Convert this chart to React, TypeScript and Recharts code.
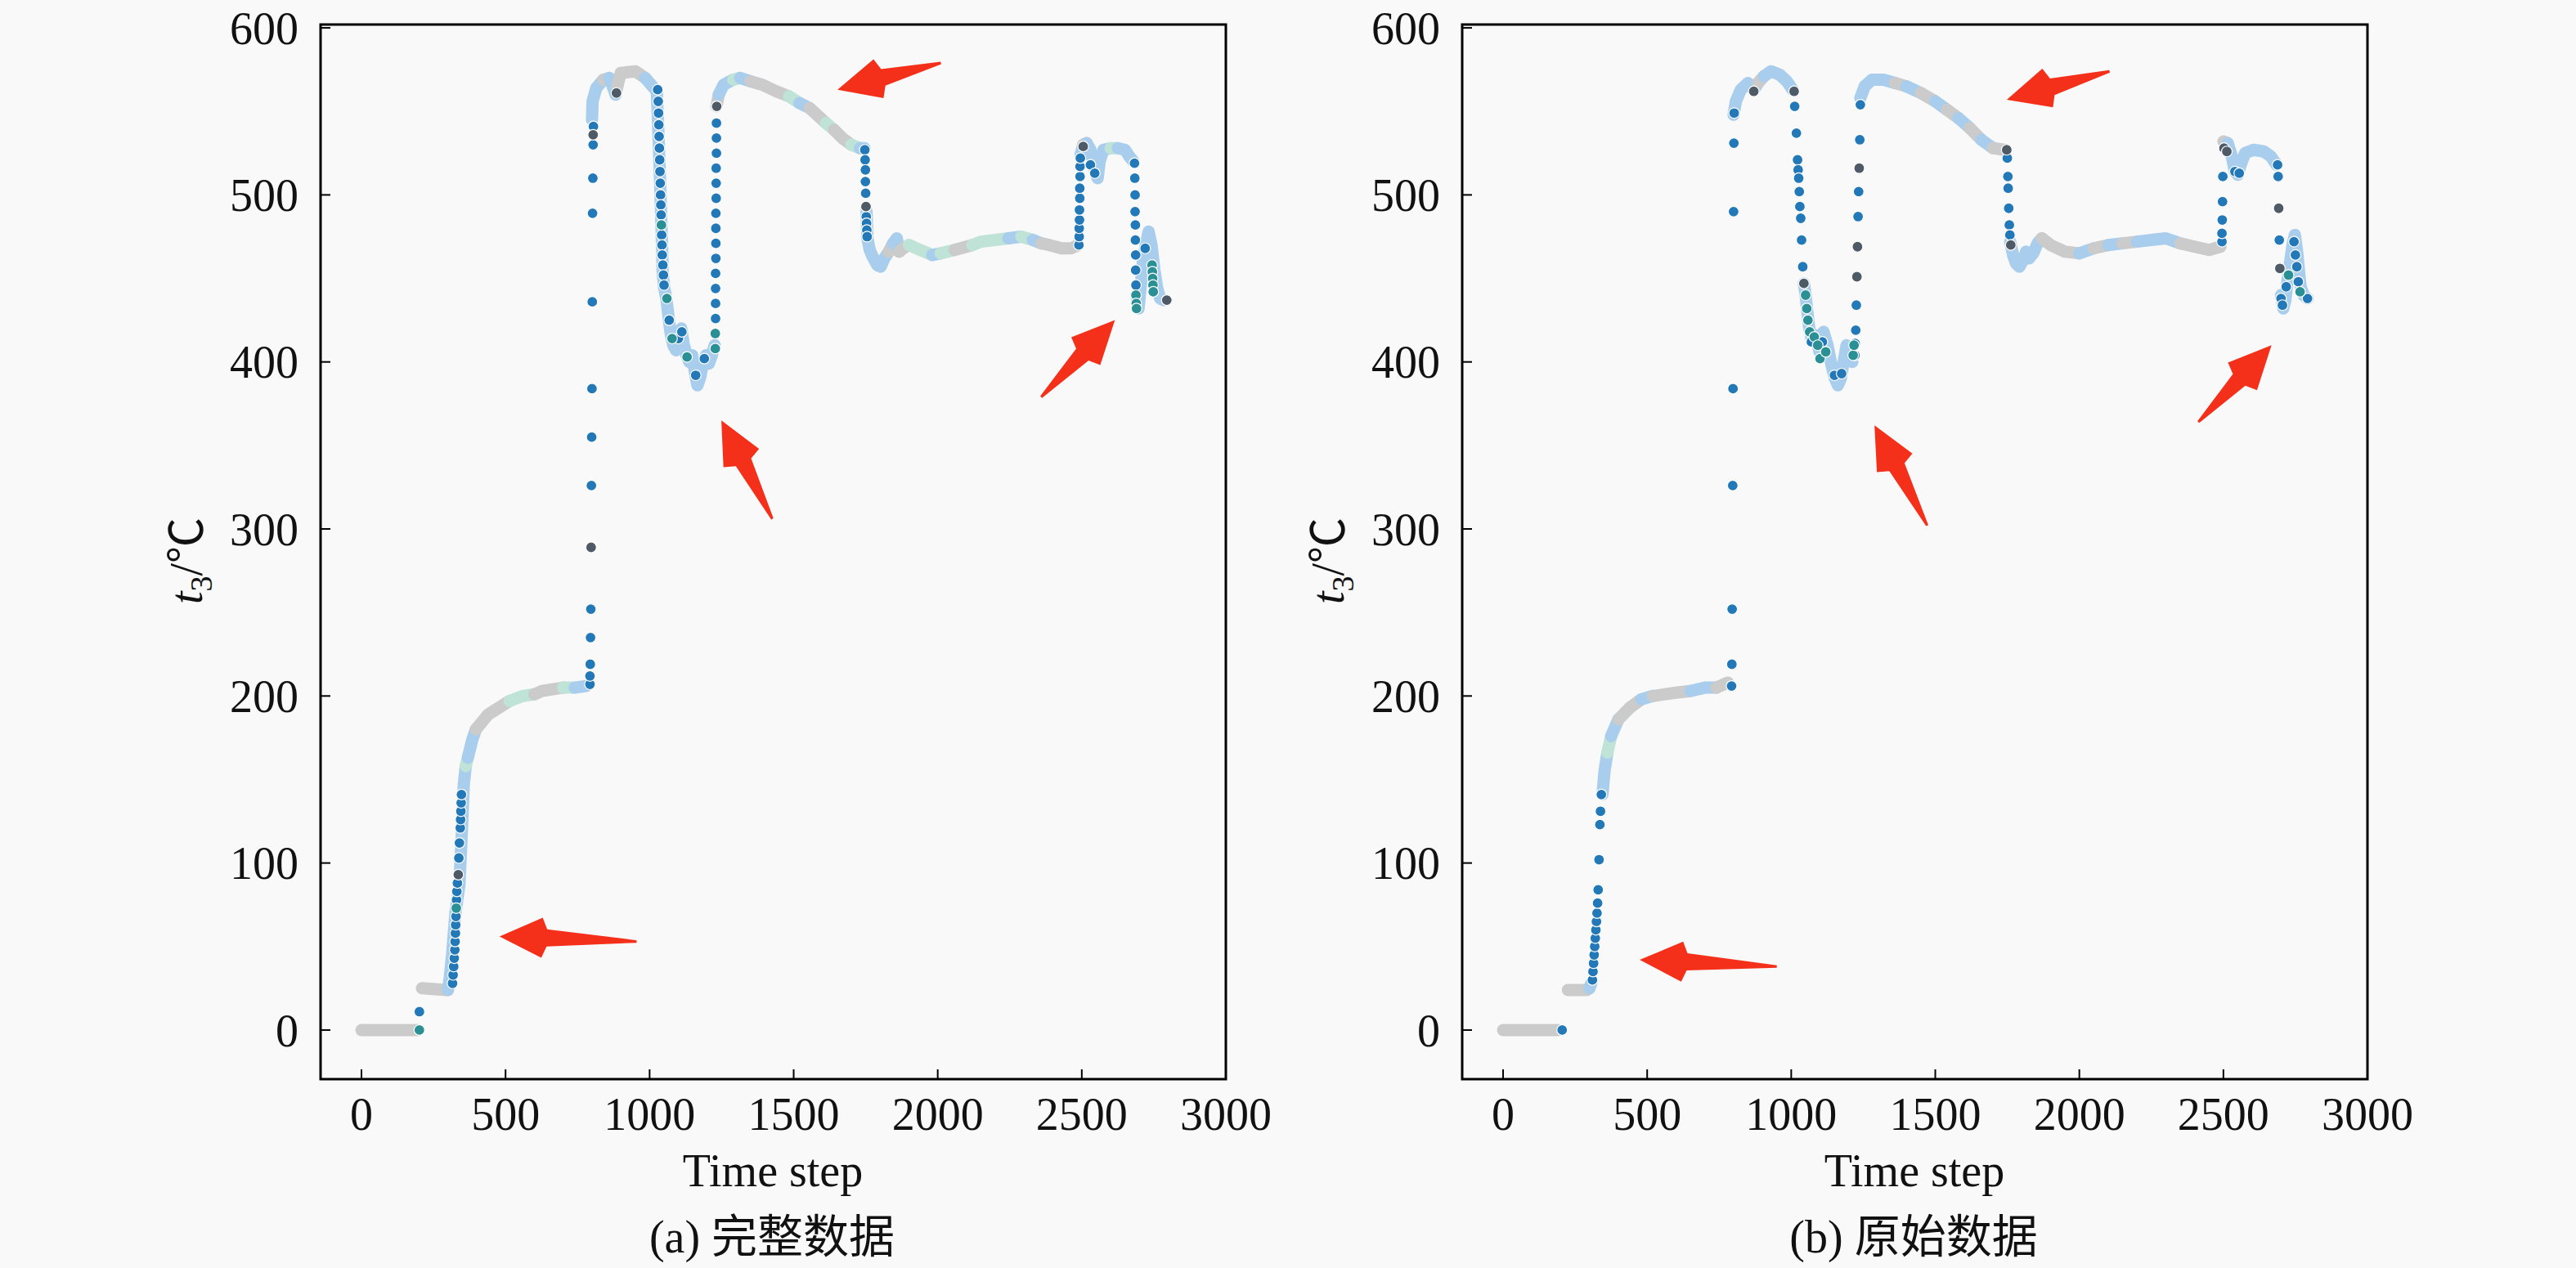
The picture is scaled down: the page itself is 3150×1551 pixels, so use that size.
import { ScatterChart, Scatter, XAxis, YAxis, ReferenceArea, ReferenceLine } from "recharts"

// hue classes seen in the scatter: g grey, l light blue, m mint (dense trace)
// b blue, d dark grey, t teal (single markers)
type Hue = "g" | "l" | "m" | "b" | "d" | "t"
type Pt = [number, number, Hue]

const HUES: Record<Hue, string> = {
  g: "#cbcbcb",
  l: "#a9cdec",
  m: "#bfe3d6",
  b: "#2379b8",
  d: "#4e5a66",
  t: "#2b8f96",
}

const xTicks = [0, 500, 1000, 1500, 2000, 2500, 3000]
const yTicks = [0, 100, 200, 300, 400, 500, 600]
const X_DOMAIN: [number, number] = [-142, 3000]
const Y_DOMAIN: [number, number] = [-29.4, 602]

// (a) 完整数据 — dense trace, one array per unbroken piece
const bandA: Pt[][] = [
  [[0, 0, "g"], [185, 0, "g"], [195, 0, "l"]],
  [
    [210, 25, "g"], [295, 24, "g"], [300, 24, "l"], [306, 31, "l"], [315, 46, "l"], [326, 70, "l"],
    [340, 87, "l"], [349, 121, "l"], [355, 147, "l"], [362, 158, "m"], [369, 163, "l"], [385, 174, "l"],
    [397, 180, "g"], [440, 189, "g"], [514, 197, "m"], [560, 200, "m"], [600, 201, "g"], [627, 203, "g"],
    [700, 205, "m"], [740, 205, "l"], [780, 206, "l"],
  ],
  [
    [800, 545, "l"], [802, 556, "l"], [815, 564, "l"], [840, 569, "g"], [860, 570, "l"], [870, 566, "l"],
    [882, 560, "l"], [888, 565, "g"], [900, 573, "g"], [951, 574, "g"], [985, 570, "l"], [1010, 565, "l"],
    [1025, 562, "l"], [1030, 540, "l"], [1036, 510, "l"], [1040, 488, "l"], [1044, 465, "l"],
    [1045, 455, "l"], [1050, 445, "l"], [1058, 438, "l"], [1065, 428, "l"], [1072, 418, "l"], [1082, 410, "l"],
    [1092, 407, "l"], [1102, 414, "l"], [1110, 420, "l"], [1118, 411, "l"], [1128, 404, "l"], [1138, 400, "l"],
    [1148, 404, "l"], [1157, 394, "l"], [1166, 386, "l"], [1176, 391, "l"], [1186, 400, "l"], [1196, 404, "l"],
    [1206, 399, "l"], [1216, 404, "l"], [1226, 410, "l"],
  ],
  [
    [1232, 553, "g"], [1240, 560, "l"], [1257, 566, "l"], [1290, 569, "m"], [1314, 570, "l"], [1350, 568, "g"],
    [1390, 566, "g"], [1440, 562, "g"], [1484, 559, "m"], [1520, 555, "l"], [1555, 552, "g"], [1612, 543, "m"],
    [1640, 539, "g"], [1669, 534, "g"], [1700, 530, "m"], [1730, 528, "l"], [1746, 528, "l"],
  ],
  [
    [1753, 490, "l"], [1756, 474, "l"], [1764, 467, "l"], [1774, 463, "l"], [1790, 458, "l"], [1802, 457, "l"],
    [1815, 462, "l"], [1830, 466, "g"], [1845, 471, "l"], [1858, 474, "l"], [1866, 466, "g"], [1880, 468, "g"],
    [1900, 470, "m"], [1940, 467, "m"], [1981, 464, "l"], [2010, 465, "m"], [2058, 467, "g"], [2120, 470, "m"],
    [2151, 472, "m"], [2200, 473, "m"], [2245, 474, "l"], [2290, 475, "m"], [2330, 473, "l"], [2360, 471, "g"],
    [2387, 470, "g"], [2430, 468, "g"], [2463, 468, "g"], [2488, 470, "g"],
  ],
  [
    [2496, 524, "l"], [2505, 530, "g"], [2517, 531, "l"], [2530, 527, "l"], [2545, 515, "l"], [2555, 510, "l"],
    [2562, 520, "l"], [2575, 527, "l"], [2600, 528, "m"], [2625, 528, "l"], [2650, 527, "l"], [2665, 523, "l"],
    [2680, 520, "l"],
  ],
  [
    [2690, 440, "l"], [2697, 432, "l"], [2705, 446, "l"], [2712, 460, "l"], [2722, 470, "l"], [2732, 478, "l"],
    [2742, 470, "l"], [2752, 455, "l"], [2762, 444, "l"], [2772, 438, "l"], [2785, 437, "l"],
  ],
]

const dotsA: Pt[] = [
  [201, 0, "t"], [201, 11, "b"],
  [316, 28, "b"], [318, 33, "b"], [320, 38, "b"], [322, 43, "b"], [324, 48, "b"], [325, 53, "b"], [326, 58, "b"],
  [327, 63, "b"], [328, 68, "b"], [329, 73, "t"], [330, 78, "b"], [331, 83, "b"], [333, 88, "b"], [336, 93, "d"],
  [338, 103, "b"], [340, 112, "b"], [343, 121, "b"], [344, 126, "b"], [345, 131, "b"], [346, 136, "b"], [347, 141, "b"],
  [793, 207, "b"], [793, 212, "b"], [794, 219, "b"], [795, 235, "b"], [796, 252, "b"], [797, 289, "d"], [798, 326, "b"],
  [799, 355, "b"], [800, 384, "b"], [801, 436, "b"], [802, 489, "b"], [803, 510, "b"], [804, 530, "b"], [804, 536, "d"],
  [805, 541, "b"], [885, 561, "d"],
  [1028, 563, "b"], [1030, 556, "b"], [1031, 549, "b"], [1032, 542, "b"], [1033, 535, "b"], [1034, 528, "b"],
  [1035, 521, "b"], [1036, 514, "b"], [1037, 507, "b"], [1038, 500, "b"], [1039, 494, "b"], [1040, 488, "b"],
  [1041, 482, "t"], [1042, 476, "b"], [1043, 470, "b"], [1044, 464, "b"], [1046, 458, "b"], [1048, 452, "b"],
  [1050, 446, "b"],
  [1060, 438, "t"], [1068, 425, "b"], [1078, 414, "t"], [1100, 414, "b"], [1112, 418, "b"], [1130, 403, "t"],
  [1160, 392, "b"], [1190, 402, "b"],
  [1228, 408, "t"], [1228, 417, "t"], [1229, 426, "b"], [1229, 435, "b"], [1229, 444, "b"], [1229, 453, "b"],
  [1230, 462, "b"], [1230, 471, "b"], [1230, 480, "b"], [1230, 489, "b"], [1231, 498, "b"], [1231, 507, "b"],
  [1231, 516, "b"], [1232, 525, "b"], [1232, 534, "b"], [1232, 543, "b"], [1233, 553, "d"],
  [1747, 527, "b"], [1748, 521, "b"], [1749, 515, "b"], [1749, 508, "b"], [1750, 501, "b"], [1751, 493, "d"],
  [1752, 487, "b"], [1753, 483, "b"], [1754, 479, "b"], [1755, 475, "b"],
  [2490, 470, "b"], [2491, 475, "b"], [2491, 480, "b"], [2492, 485, "b"], [2492, 491, "b"], [2493, 498, "b"],
  [2493, 504, "b"], [2494, 511, "b"], [2494, 517, "b"], [2495, 522, "b"], [2505, 529, "d"], [2530, 518, "b"],
  [2545, 513, "b"],
  [2683, 519, "b"], [2684, 510, "b"], [2685, 500, "b"], [2685, 490, "b"], [2686, 482, "b"], [2686, 473, "b"],
  [2687, 464, "b"], [2687, 455, "b"], [2688, 446, "b"], [2688, 440, "t"], [2689, 435, "t"], [2690, 432, "t"],
  [2720, 468, "b"], [2744, 458, "t"], [2745, 454, "t"], [2746, 450, "t"], [2747, 446, "t"], [2748, 442, "t"],
  [2795, 437, "d"],
]

// (b) 原始数据
const bandB: Pt[][] = [
  [[0, 0, "g"], [190, 0, "g"]],
  [[225, 24, "g"], [290, 24, "g"], [300, 25, "l"], [306, 28, "l"]],
  [
    [345, 141, "l"], [352, 155, "l"], [362, 166, "m"], [375, 176, "l"], [400, 186, "g"], [440, 193, "g"],
    [480, 198, "l"], [520, 200, "g"], [600, 202, "g"], [650, 203, "l"], [700, 205, "l"], [740, 205, "g"],
    [780, 208, "l"],
  ],
  [
    [800, 548, "l"], [808, 556, "l"], [825, 563, "l"], [850, 567, "l"], [870, 563, "l"], [885, 567, "g"],
    [905, 571, "l"], [930, 574, "l"], [960, 572, "l"], [985, 568, "l"], [1005, 563, "l"],
  ],
  [
    [1044, 447, "l"], [1050, 440, "l"], [1056, 430, "l"], [1062, 421, "l"], [1072, 413, "l"], [1085, 416, "l"],
    [1098, 406, "l"], [1112, 418, "l"], [1126, 410, "l"], [1140, 398, "l"], [1152, 390, "l"], [1162, 386, "l"],
    [1172, 390, "l"], [1182, 400, "l"], [1192, 410, "l"], [1202, 404, "l"], [1212, 400, "l"],
  ],
  [
    [1240, 558, "l"], [1255, 565, "l"], [1280, 569, "l"], [1320, 569, "l"], [1360, 567, "g"], [1400, 565, "l"],
    [1450, 561, "g"], [1500, 556, "l"], [1540, 551, "g"], [1580, 546, "l"], [1620, 540, "g"], [1660, 533, "l"],
    [1700, 528, "g"], [1740, 527, "l"],
  ],
  [
    [1760, 472, "l"], [1770, 464, "l"], [1780, 459, "l"], [1792, 457, "l"], [1805, 461, "l"], [1815, 466, "l"],
    [1825, 462, "l"], [1840, 465, "l"], [1855, 471, "l"], [1870, 474, "g"], [1900, 470, "g"], [1950, 466, "g"],
    [2000, 465, "l"], [2050, 468, "g"], [2100, 470, "l"], [2150, 471, "g"], [2200, 472, "l"], [2250, 473, "l"],
    [2300, 474, "l"], [2350, 471, "g"], [2400, 469, "g"], [2450, 467, "g"], [2490, 469, "g"],
  ],
  [
    [2500, 532, "g"], [2515, 531, "l"], [2528, 524, "l"], [2540, 514, "l"], [2550, 512, "l"], [2560, 518, "l"],
    [2575, 525, "l"], [2605, 527, "l"], [2640, 526, "l"], [2665, 523, "l"], [2685, 518, "l"],
  ],
  [
    [2700, 440, "l"], [2708, 432, "l"], [2715, 437, "l"], [2722, 448, "l"], [2730, 458, "l"], [2740, 470, "l"],
    [2748, 476, "l"], [2756, 466, "l"], [2762, 455, "l"], [2768, 445, "l"], [2778, 440, "l"], [2792, 438, "l"],
  ],
]

const dotsB: Pt[] = [
  [205, 0, "b"],
  [310, 30, "b"], [312, 35, "b"], [314, 40, "b"], [316, 45, "b"], [318, 50, "b"], [320, 55, "b"], [322, 60, "b"],
  [324, 65, "b"], [326, 70, "b"], [328, 76, "b"], [330, 84, "b"], [333, 102, "b"], [336, 123, "b"], [338, 131, "b"],
  [341, 141, "b"],
  [793, 206, "b"], [794, 219, "b"], [795, 252, "b"], [797, 326, "b"], [798, 384, "b"], [800, 490, "b"],
  [801, 531, "b"], [802, 549, "b"], [870, 562, "d"],
  [1010, 562, "d"], [1012, 553, "b"], [1018, 537, "b"], [1022, 521, "b"], [1024, 515, "b"], [1026, 510, "b"],
  [1028, 502, "b"], [1030, 493, "b"], [1033, 486, "b"], [1036, 473, "b"], [1040, 457, "b"], [1044, 447, "d"],
  [1050, 440, "t"], [1054, 432, "t"], [1058, 425, "t"], [1064, 418, "t"], [1070, 412, "b"], [1080, 415, "t"],
  [1092, 410, "t"], [1100, 402, "t"], [1108, 412, "b"], [1120, 406, "t"], [1150, 392, "b"], [1175, 393, "b"],
  [1215, 404, "t"], [1218, 410, "t"],
  [1221, 404, "b"], [1222, 411, "b"], [1224, 419, "b"], [1226, 434, "b"], [1228, 451, "d"], [1230, 469, "d"],
  [1232, 487, "b"], [1234, 502, "b"], [1236, 516, "d"], [1238, 533, "b"], [1240, 554, "b"],
  [1748, 527, "d"], [1750, 522, "b"], [1752, 511, "b"], [1753, 504, "b"], [1755, 492, "b"], [1757, 482, "b"],
  [1759, 476, "b"], [1762, 470, "d"],
  [2495, 472, "b"], [2495, 477, "b"], [2496, 485, "b"], [2497, 496, "b"], [2498, 511, "b"], [2502, 528, "d"],
  [2512, 526, "d"], [2540, 514, "b"], [2555, 513, "b"],
  [2688, 518, "b"], [2690, 511, "b"], [2692, 492, "d"], [2694, 473, "b"], [2696, 456, "d"], [2700, 438, "b"],
  [2705, 434, "b"], [2718, 445, "b"], [2726, 452, "t"], [2745, 472, "b"], [2750, 464, "b"], [2755, 457, "b"],
  [2760, 448, "b"], [2766, 442, "t"], [2792, 438, "b"],
]

// red annotation arrows: tail x, tail y, head x, head y (data units)
const arrowsA = [
  [955, 53, 479, 56],
  [2011, 579, 1652, 563],
  [1426, 306, 1249, 365],
  [2359, 379, 2615, 425],
]
const arrowsB = [
  [950, 38, 474, 42],
  [2105, 574, 1748, 557],
  [1472, 302, 1289, 362],
  [2413, 364, 2667, 410],
]

const FONT = "'Liberation Serif', 'Times New Roman', 'Noto Sans CJK SC', serif"
const AXIS_W = 120 // room reserved for the y axis / x axis inside the margins

// split a trace piece into runs of one hue, sharing the joint point
function toRuns(piece: Pt[]) {
  const out: { hue: Hue; pts: { x: number; y: number }[] }[] = []
  for (const [x, y, hue] of piece) {
    const last = out[out.length - 1]
    if (last && last.hue === hue) {
      last.pts.push({ x, y })
    } else {
      if (last) last.pts.push({ x, y })
      out.push({ hue, pts: [{ x, y }] })
    }
  }
  return out.filter((r) => r.pts.length > 1)
}

const XTick = (props: any) => {
  const { x, y, payload } = props
  return (
    <g>
      <line x1={x} x2={x} y1={y} y2={y - 12} stroke="#000" strokeWidth={2} />
      <text x={x} y={y + 62} textAnchor="middle" fontSize={56} fontFamily={FONT} fill="#111">
        {payload.value}
      </text>
    </g>
  )
}

const YTick = (props: any) => {
  const { x, y, payload } = props
  return (
    <g>
      <line x1={x} x2={x + 12} y1={y} y2={y} stroke="#000" strokeWidth={2} />
      <text x={x - 27} y={y} dy="0.35em" textAnchor="end" fontSize={56} fontFamily={FONT} fill="#111">
        {payload.value}
      </text>
    </g>
  )
}

const Arrow = (props: any) => {
  const { x1, y1, x2, y2 } = props
  const dx = x2 - x1
  const dy = y2 - y1
  const len = Math.hypot(dx, dy)
  const ux = dx / len
  const uy = dy / len
  const px = -uy
  const py = ux
  const pt = (a: number, b: number) => `${x2 - ux * a + px * b},${y2 - uy * a + py * b}`
  const pts = [pt(0, 0), pt(52, 25), pt(58, 11), pt(len, 1.5), pt(len, -1.5), pt(58, -10), pt(52, -24)]
  return <polygon points={pts.join(" ")} fill="#f5301a" />
}

const Dot = (props: any) => (
  <circle cx={props.cx} cy={props.cy} r={6.5} fill={props.fill} stroke="#ffffff" strokeWidth={1.2} />
)

function Panel({ band, dots, arrows, left, marginLeft, marginRight }: any) {
  const runs = (band as Pt[][]).flatMap(toRuns)
  const dotHues: Hue[] = ["b", "d", "t"]
  return (
    <div style={{ position: "absolute", left, top: 0 }}>
      <ScatterChart
        width={1575}
        height={1551}
        margin={{ top: 30, left: marginLeft - AXIS_W, right: marginRight, bottom: 231 - AXIS_W }}
      >
        <XAxis
          type="number"
          dataKey="x"
          domain={X_DOMAIN}
          ticks={xTicks}
          interval={0}
          allowDataOverflow
          axisLine={false}
          tickLine={false}
          tickSize={0}
          tickMargin={0}
          height={AXIS_W}
          tick={XTick}
        />
        <YAxis
          type="number"
          dataKey="y"
          domain={Y_DOMAIN}
          ticks={yTicks}
          interval={0}
          allowDataOverflow
          axisLine={false}
          tickLine={false}
          tickSize={0}
          tickMargin={0}
          width={AXIS_W}
          tick={YTick}
        />
        {runs.map((r, i) => (
          <Scatter
            key={`band-${i}`}
            data={r.pts}
            fill={HUES[r.hue]}
            line={{ stroke: HUES[r.hue], strokeWidth: 15, strokeLinecap: "round", strokeLinejoin: "round" }}
            lineType="joint"
            shape={() => <g />}
            isAnimationActive={false}
          />
        ))}
        {dotHues.map((h) => (
          <Scatter
            key={`dots-${h}`}
            data={(dots as Pt[]).filter((d) => d[2] === h).map(([x, y]) => ({ x, y }))}
            fill={HUES[h]}
            shape={Dot}
            isAnimationActive={false}
          />
        ))}
        {(arrows as number[][]).map(([tx, ty, hx, hy], i) => (
          <ReferenceLine
            key={`arrow-${i}`}
            segment={[
              { x: tx, y: ty },
              { x: hx, y: hy },
            ]}
            ifOverflow="visible"
            shape={Arrow}
          />
        ))}
        <ReferenceArea
          x1={X_DOMAIN[0]}
          x2={X_DOMAIN[1]}
          y1={Y_DOMAIN[0]}
          y2={Y_DOMAIN[1]}
          fill="none"
          stroke="#000"
          strokeWidth={3}
          ifOverflow="visible"
        />
      </ScatterChart>
    </div>
  )
}

function Titles({ dx, caption }: { dx: number; caption: string }) {
  return (
    <g fontFamily={FONT} fill="#111">
      <text x={945 + dx} y={1451} textAnchor="middle" fontSize={56}>
        Time step
      </text>
      <text x={944 + dx} y={1532} textAnchor="middle" fontSize={56}>
        {caption}
      </text>
      <text x={247 + dx} y={686} textAnchor="middle" fontSize={56} transform={`rotate(-90 ${247 + dx} 686)`}>
        <tspan fontStyle="italic">t</tspan>
        <tspan fontSize={38} dy={12}>
          3
        </tspan>
        <tspan dy={-12}>/℃</tspan>
      </text>
    </g>
  )
}

export default function App() {
  return (
    <div
      style={{
        position: "absolute",
        left: 0,
        top: 0,
        width: 3150,
        height: 1551,
        background: "#f9f9f9",
        overflow: "hidden",
      }}
    >
      <Panel band={bandA} dots={dotsA} arrows={arrowsA} left={0} marginLeft={392} marginRight={76} />
      <Panel band={bandB} dots={dotsB} arrows={arrowsB} left={1575} marginLeft={213} marginRight={255} />
      <svg width={3150} height={1551} style={{ position: "absolute", left: 0, top: 0, pointerEvents: "none" }}>
        <Titles dx={0} caption="(a) 完整数据" />
        <Titles dx={1396} caption="(b) 原始数据" />
      </svg>
    </div>
  )
}
